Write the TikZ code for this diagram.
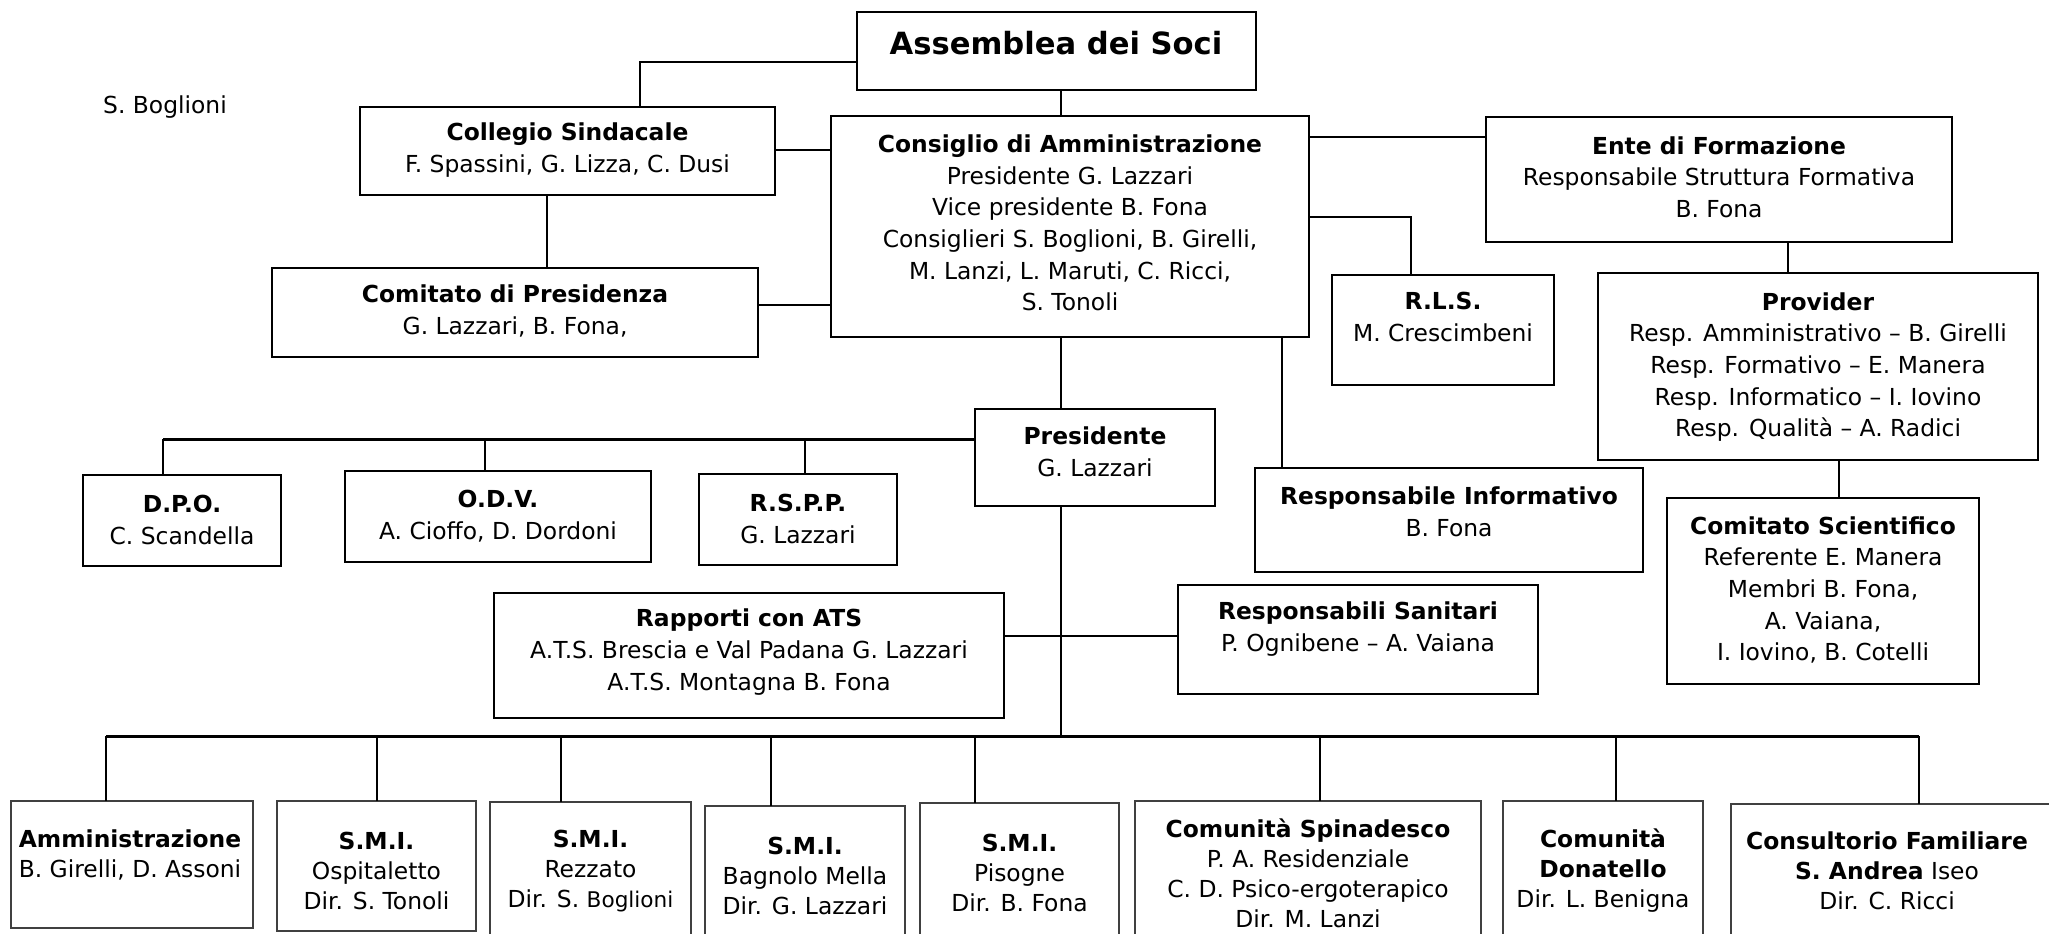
\documentclass[tikz,border=0pt]{standalone}
\usepackage{fontspec}
\setmainfont{DejaVu Sans}
\newcommand\mkbox[6][]{\node[boxst, #1, minimum width={(#5-#3)*0.5pt}, minimum height={(#6-#4)*0.5pt}] (#2) at ({(#3+#5)/2},{(#4+#6)/2}) {};}
\begin{document}
\begin{tikzpicture}[x=0.5pt,y=-0.5pt,
  boxst/.style={draw=black, line width=1.3pt, inner sep=0pt, outer sep=0pt},
  lowbox/.style={draw=black!75, line width=0.9pt},
  txt/.style={align=center, inner sep=0pt, font=\fontsize{11.7}{15.8}\selectfont},
  txtlow/.style={align=center, inner sep=0pt, font=\fontsize{11.7}{15}\selectfont},
  conn/.style={line width=0.9pt},
  busst/.style={line width=1.5pt}]
\useasboundingbox (0,0) rectangle (2049,933);
\fill[white] (0,0) rectangle (2049,933);
\clip (0,0) rectangle (2049,933);

% ---------- boxes ----------
\mkbox{asm}{857}{12}{1256}{90}
\mkbox{col}{360}{107}{775}{195}
\mkbox{cda}{831}{116}{1309}{337}
\mkbox{cdp}{272}{268}{758}{357}
\mkbox{ente}{1486}{117}{1952}{242}
\mkbox{rls}{1332}{275}{1554}{385}
\mkbox{prov}{1598}{273}{2038}{460}
\mkbox{pres}{975}{409}{1215}{506}
\mkbox{rinf}{1255}{468}{1643}{572}
\mkbox{cs}{1667}{498}{1979}{684}
\mkbox{dpo}{83}{475}{281}{566}
\mkbox{odv}{345}{471}{651}{562}
\mkbox{rspp}{699}{474}{897}{565}
\mkbox{ats}{494}{593}{1004}{718}
\mkbox{rsan}{1178}{585}{1538}{694}
\mkbox[lowbox]{amm}{11}{801}{253}{928}
\mkbox[lowbox]{smia}{277}{801}{476}{931}
\mkbox[lowbox]{smib}{490}{802}{691}{945}
\mkbox[lowbox]{smic}{705}{806}{905}{945}
\mkbox[lowbox]{smid}{920}{803}{1119}{945}
\mkbox[lowbox]{spin}{1135}{801}{1481}{945}
\mkbox[lowbox]{don}{1503}{801}{1703}{945}
\mkbox[lowbox]{cons}{1731}{804}{2070}{945}

% ---------- texts ----------
\node[txt, font=\fontsize{15.3}{18}\selectfont\bfseries] (asmt) at (1056,43) {Assemblea dei Soci};
\node[txt] (bogl) at (165,107) {S. Boglioni};
\node[txt] (colt) at (col.center |- 0,150) {\textbf{Collegio Sindacale}\\F. Spassini, G. Lizza, C. Dusi};
\node[txt] (cdat) at (1070,223) {\textbf{Consiglio di Amministrazione}\\Presidente G. Lazzari\\Vice presidente B. Fona\\Consiglieri S. Boglioni, B. Girelli,\\M. Lanzi, L. Maruti, C. Ricci,\\S. Tonoli};
\node[txt] (cdpt) at (cdp.center |- 0,311) {\textbf{Comitato di Presidenza}\\G. Lazzari, B. Fona,};
\node[txt] (entet) at (ente.center |- 0,177) {\textbf{Ente di Formazione}\\Responsabile Struttura Formativa\\B. Fona};
\node[txt] (rlst) at (rls.center |- 0,317) {\textbf{R.L.S.}\\M. Crescimbeni};
\node[txt] (provt) at (prov.center |- 0,367) {\textbf{Provider}\\Resp. Amministrativo – B. Girelli\\Resp. Formativo – E. Manera\\Resp. Informatico – I. Iovino\\Resp. Qualità – A. Radici};
\node[txt] (prest) at (pres.center |- 0,452) {\textbf{Presidente}\\G. Lazzari};
\node[txt] (rinft) at (rinf.center |- 0,512) {\textbf{Responsabile Informativo}\\B. Fona};
\node[txt] (cst) at (cs.center |- 0,590) {\textbf{Comitato Scientifico}\\Referente E. Manera\\Membri B. Fona,\\A. Vaiana,\\I. Iovino, B. Cotelli};
\node[txt] (rsant) at (rsan.center |- 0,629) {\textbf{Responsabili Sanitari}\\P. Ognibene – A. Vaiana};
\node[txt] (dpot) at (dpo.center |- 0,520) {\textbf{D.P.O.}\\C. Scandella};
\node[txt] (odvt) at (odv.center |- 0,516) {\textbf{O.D.V.}\\A. Cioffo, D. Dordoni};
\node[txt] (rsppt) at (rspp.center |- 0,519) {\textbf{R.S.P.P.}\\G. Lazzari};
\node[txt] (atst) at (ats.center |- 0,652) {\textbf{Rapporti con ATS}\\A.T.S. Brescia e Val Padana G. Lazzari\\A.T.S. Montagna B. Fona};
\node[txtlow] (ammt) at (130,855) {\textbf{Amministrazione}\\B. Girelli, D. Assoni};
\node[txtlow] (smiat) at (smia.center |- 0,871) {\textbf{S.M.I.}\\Ospitaletto\\Dir. S. Tonoli};
\node[txtlow] (smibt) at (smib.center |- 0,871) {\textbf{S.M.I.}\\Rezzato\\Dir. S. {\fontsize{10.8}{15}\selectfont Boglioni}};
\node[txtlow] (smict) at (smic.center |- 0,876) {\textbf{S.M.I.}\\Bagnolo Mella\\Dir. G. Lazzari};
\node[txtlow] (smidt) at (smid.center |- 0,873) {\textbf{S.M.I.}\\Pisogne\\Dir. B. Fona};
\node[txtlow] (spint) at (1308,873) {\textbf{Comunità Spinadesco}\\P. A. Residenziale\\C. D. Psico-ergoterapico\\Dir. M. Lanzi};
\node[txtlow] (dont) at (1603,871) {\textbf{Comunità}\\\textbf{Donatello}\\Dir. L. Benigna};
\node[txtlow] (const) at (1887,871) {\textbf{Consultorio Familiare}\\\textbf{S. Andrea} Iseo\\Dir. C. Ricci};

% ---------- connectors ----------
\draw[conn] (asm.west |- 0,62) -| (col.north -| 640,0);
\draw[conn] (col.east |- 0,150) -- (cda.west |- 0,150);
\draw[conn] (col.south -| 547,0) -- (cdp.north -| 547,0);
\draw[conn] (cdp.east |- 0,305) -- (cda.west |- 0,305);
\draw[conn] (asm.south -| 1061,0) -- (cda.north -| 1061,0);
\draw[conn] (cda.east |- 0,137) -- (ente.west |- 0,137);
\draw[conn] (cda.east |- 0,217) -| (rls.north -| 1411,0);
\draw[conn] (ente.south -| 1788,0) -- (prov.north -| 1788,0);
\draw[conn] (prov.south -| 1839,0) -- (cs.north -| 1839,0);
\draw[conn] (cda.south -| 1282,0) -- (rinf.north -| 1282,0);
\draw[conn] (cda.south -| 1061,0) -- (pres.north -| 1061,0);

\coordinate (busA) at (163,439);
\draw[busst] (pres.west |- busA) -- (busA);
\draw[conn] (busA) -- (dpo.north -| busA);
\draw[conn] (busA -| 485,0) -- (odv.north -| 485,0);
\draw[conn] (busA -| 805,0) -- (rspp.north -| 805,0);

\coordinate (busL) at (106,736);
\coordinate (busR) at (1919,736);
\draw[conn] (pres.south -| 1061,0) -- (busL -| 1061,0);
\draw[conn] (ats.east |- 0,636) -- (rsan.west |- 0,636);
\draw[busst] (busL) -- (busR);
\draw[conn] (busL) -- (amm.north -| busL);
\draw[conn] (busL -| 377,0) -- (smia.north -| 377,0);
\draw[conn] (busL -| 561,0) -- (smib.north -| 561,0);
\draw[conn] (busL -| 771,0) -- (smic.north -| 771,0);
\draw[conn] (busL -| 975,0) -- (smid.north -| 975,0);
\draw[conn] (busL -| 1320,0) -- (spin.north -| 1320,0);
\draw[conn] (busL -| 1616,0) -- (don.north -| 1616,0);
\draw[conn] (busR) -- (cons.north -| busR);
\end{tikzpicture}
\end{document}
